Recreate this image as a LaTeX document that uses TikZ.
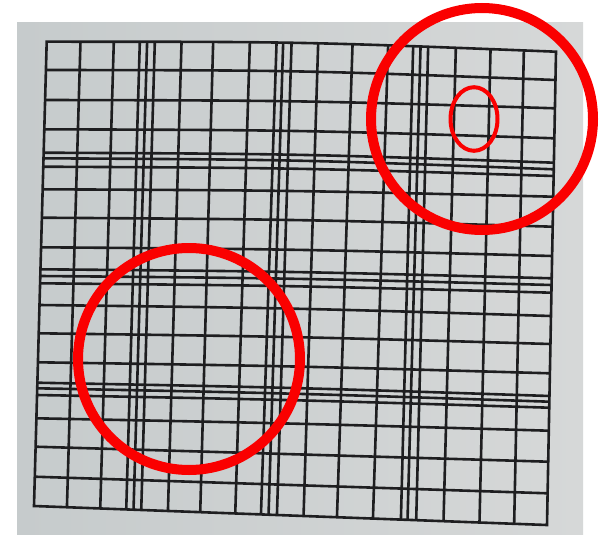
\documentclass[tikz,border=0pt]{standalone}
\usetikzlibrary{calc}
\definecolor{paperA}{RGB}{198,203,204}
\definecolor{paperB}{RGB}{214,216,216}
\definecolor{ink}{RGB}{30,30,32}
\definecolor{mark}{RGB}{250,0,0}
\begin{document}
\begin{tikzpicture}[x=1pt,y=-1pt,
  gridline/.style={draw=ink, line width=2.6pt},
  ring/.style={draw=mark, line width=10pt},
  smallring/.style={draw=mark, line width=4pt}]
\useasboundingbox (0,0) rectangle (602,535);
\fill[white] (0,0) rectangle (602,535);
\shade[left color=paperA, right color=paperB] (17,23) rectangle (583,535);
\coordinate (TL) at (46.7,41.7);
\coordinate (TR) at (556,51.7);
\coordinate (BR) at (547,525);
\coordinate (BL) at (34,506);
\coordinate (TC) at (301.35,41.7);
\begin{scope}
  \clip (TL) .. controls (TC) .. (TR) -- (BR) -- (BL) -- cycle;
  % vertical rulings
  \foreach \xt/\xb in {80.7/66.7, 114/100, 140/126, 147.3/133.3, 155/141,
      181.7/167.7, 213.3/200, 250/235, 276.7/260.7, 283.3/268.3, 291.7/276.7,
      318.3/303.3, 352.7/336.7, 388.3/372.7, 413.3/400.7, 420.7/407.3,
      428.3/416, 456/443.3, 490.7/479.3, 524/514} {
    \pgfmathsetmacro{\gyt}{41.7+10*(\xt-46.7)/509.3-8}
    \pgfmathsetmacro{\gyb}{506+19*(\xb-34)/513+8}
    \draw[gridline] (\xt,\gyt) -- (\xb,\gyb);
  }
  % horizontal rulings
  \foreach \yl/\yr in {70/80, 100/108.3, 129.3/138.3, 152.7/162.7, 158.3/169.3,
      166.7/176, 189.3/196.7, 217.7/226.7, 247.3/256, 269.3/278.3, 276/285,
      283.3/292.7, 305/316, 333.3/344, 362.3/373.3, 382.7/396, 388.3/401.7,
      395/407.7, 418.3/430.7, 446.7/461.7, 476.7/493.3} {
    \pgfmathsetmacro{\gv}{(\yl-41.7)/464.3}
    \pgfmathsetmacro{\gxl}{46.7-12.7*\gv}
    \pgfmathsetmacro{\gxr}{556-9*(\yr-51.7)/473.3}
    \pgfmathsetmacro{\gxm}{(\gxl+\gxr)/2}
    \pgfmathsetmacro{\gym}{(\yl+\yr)/2-(1-\gv)*(\yr-\yl)/2}
    \draw[gridline] (\gxl-4,\yl) -- (\gxl,\yl) .. controls (\gxm,\gym) .. (\gxr,\yr) -- (\gxr+4,\yr);
  }
\end{scope}
\draw[gridline, line join=miter] (TL) .. controls (TC) .. (TR) -- (BR) -- (BL) -- cycle;
% red annotation rings
\draw[ring] (482,119) circle[radius=111];
\draw[smallring] (474,119) ellipse[x radius=23.5, y radius=31.8];
\draw[ring] (189,359) circle[radius=111];
\end{tikzpicture}
\end{document}
